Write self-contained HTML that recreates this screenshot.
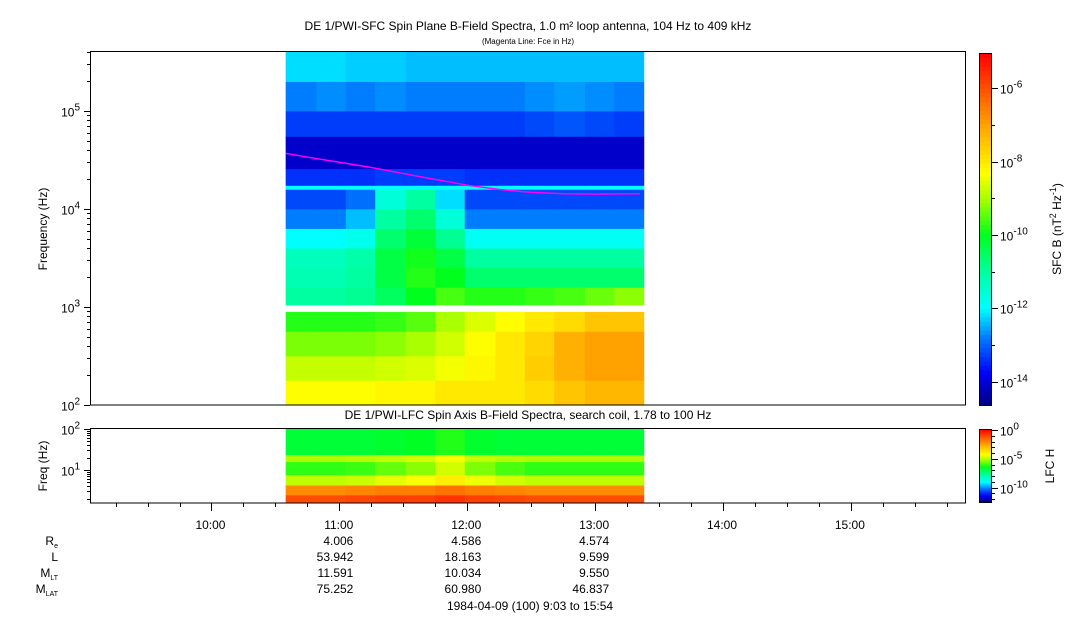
<!DOCTYPE html>
<html><head><meta charset="utf-8"><style>
body{margin:0;background:#fff}
svg text{font-family:"Liberation Sans",sans-serif;fill:#000}
</style></head><body>
<svg id="c" width="1083" height="620" xmlns="http://www.w3.org/2000/svg">
<text x="528" y="30" font-size="12" text-anchor="middle">DE 1/PWI-SFC  Spin Plane B-Field Spectra, 1.0 m² loop antenna, 104 Hz to 409 kHz</text>
<text x="528" y="44" font-size="8" text-anchor="middle">(Magenta Line: Fce in Hz)</text>
<text x="528" y="419" font-size="12" text-anchor="middle">DE 1/PWI-LFC  Spin Axis B-Field Spectra, search coil, 1.78 to 100 Hz</text>
<text transform="translate(47,229) rotate(-90)" font-size="12" text-anchor="middle">Frequency (Hz)</text>
<text transform="translate(47,466) rotate(-90)" font-size="12" text-anchor="middle">Freq (Hz)</text>
<text transform="translate(1061,229) rotate(-90)" font-size="12" text-anchor="middle">SFC B (nT<tspan dy="-5" font-size="9">2</tspan><tspan dy="5"> Hz</tspan><tspan dy="-5" font-size="9">-1</tspan><tspan dy="5">)</tspan></text>
<text transform="translate(1054,466) rotate(-90)" font-size="12" text-anchor="middle">LFC H</text>
<g id="g"></g>
</svg>
<script>
// ---- data ----
const timeBinStarts = [10.58,10.82,11.05,11.28,11.52,11.75,11.98,12.22,12.45,12.68,12.92,13.15];
const timeEnd = 13.38;
const upperBandEdges = [2.0,2.25,2.5,2.75,2.95,3.02,3.2,3.4,3.6,3.8,4.0,4.2,4.24,4.41,4.74,5.0,5.3,5.61];
const upperValues = [
 [-8.3,-8.3,-8.3,-8.2,-8.2,-8.0,-8.0,-8.0,-7.8,-7.5,-7.3,-7.3],
 [-8.8,-8.8,-8.8,-8.7,-8.6,-8.4,-8.2,-8.0,-7.6,-7.2,-7.0,-7.0],
 [-9.3,-9.3,-9.3,-9.2,-9.0,-8.7,-8.3,-8.0,-7.7,-7.2,-7.0,-7.0],
 [-9.8,-9.8,-9.8,-9.7,-9.5,-9.0,-8.6,-8.3,-8.0,-7.8,-7.5,-7.5],
 [null,null,null,null,null,null,null,null,null,null,null,null],
 [-11.0,-11.0,-10.9,-10.5,-10.0,-9.6,-9.8,-9.8,-9.7,-9.6,-9.4,-9.2],
 [-11.2,-11.2,-11.0,-10.3,-9.8,-10.0,-10.6,-10.6,-10.6,-10.6,-10.6,-10.6],
 [-11.3,-11.3,-11.1,-10.3,-9.9,-10.3,-11.0,-11.0,-11.0,-11.0,-11.0,-11.0],
 [-12.0,-12.0,-11.8,-10.6,-10.2,-10.9,-11.9,-11.9,-11.9,-11.9,-11.9,-11.9],
 [-12.8,-12.8,-12.4,-11.0,-10.6,-11.6,-12.8,-12.8,-12.8,-12.8,-12.8,-12.8],
 [-13.2,-13.2,-12.9,-11.6,-11.0,-12.2,-13.2,-13.2,-13.2,-13.2,-13.2,-13.2],
 [-12.0,-12.0,-12.0,-12.0,-12.0,-12.0,-12.0,-12.0,-12.0,-12.0,-12.0,-12.0],
 [-13.4,-13.4,-13.4,-13.3,-13.3,-13.3,-13.4,-13.4,-13.4,-13.4,-13.4,-13.4],
 [-14.1,-14.1,-14.1,-14.1,-14.1,-14.1,-14.1,-14.1,-14.1,-14.1,-14.1,-14.1],
 [-13.3,-13.3,-13.3,-13.3,-13.3,-13.3,-13.3,-13.3,-13.2,-13.1,-13.2,-13.3],
 [-12.8,-12.7,-12.8,-12.7,-12.8,-12.8,-12.8,-12.8,-12.7,-12.6,-12.7,-12.8],
 [-12.2,-12.2,-12.3,-12.3,-12.4,-12.4,-12.4,-12.4,-12.4,-12.4,-12.4,-12.4]
];
const fceTimes = [10.58,10.8,11.0,11.25,11.5,11.75,12.0,12.25,12.5,12.75,13.0,13.35];
const fceKHz = [37,33,30,26.5,23,20,17.5,15.8,14.8,14.3,14.2,14.3];
const lowerBandEdges = [0.2,0.39,0.63,0.88,1.2,1.37,2.0];
const lowerValues = [
 [-1.2,-1.2,-1.1,-1.0,-1.0,-0.8,-1.0,-1.1,-1.2,-1.2,-1.2,-1.2],
 [-2.2,-2.2,-2.1,-2.0,-2.0,-1.8,-2.0,-2.1,-2.2,-2.2,-2.2,-2.2],
 [-5.0,-5.0,-4.9,-4.6,-4.4,-4.0,-4.5,-4.8,-5.0,-5.0,-5.0,-5.0],
 [-6.2,-6.2,-6.1,-5.8,-5.5,-4.8,-5.6,-6.0,-6.2,-6.2,-6.2,-6.2],
 [-5.2,-5.2,-5.1,-5.0,-4.8,-4.4,-5.0,-5.1,-5.2,-5.2,-5.2,-5.2],
 [-6.8,-6.8,-6.8,-6.7,-6.6,-6.3,-6.7,-6.8,-6.8,-6.8,-6.8,-6.8]
];
const hourTicks = ["10:00","11:00","12:00","13:00","14:00","15:00"];
const ephemRows = ["4.006|4.586|4.574","53.942|18.163|9.599","11.591|10.034|9.550","75.252|60.980|46.837"];
// ---- axes ----
const X0=90,X1=966,T0=9+3/60,T1=15+54/60;
const xT=t=>X0+(t-T0)/(T1-T0)*(X1-X0);
const yU=l=>209-(l-4)*98;
const yL=l=>470-(l-1)*41;
const cbU=v=>235-(v+10)*36.7;
const cl=v=>430-v*5.75;
const NS='http://www.w3.org/2000/svg';
const g=document.getElementById('g');
function el(t,a,p){const e=document.createElementNS(NS,t);for(const k in a)e.setAttribute(k,a[k]);(p||g).appendChild(e);return e;}
const stops=[[0,[0,0,128]],[0.09,[0,0,245]],[0.19,[0,120,255]],[0.276,[0,255,255]],[0.38,[0,255,160]],[0.484,[0,255,30]],[0.58,[160,255,0]],[0.66,[255,255,0]],[0.8,[255,160,0]],[1,[255,0,0]]];
function cmap(f){f=Math.max(0,Math.min(1,f));for(let i=1;i<stops.length;i++){if(f<=stops[i][0]){const a=stops[i-1],b=stops[i],r=(f-a[0])/(b[0]-a[0]);return 'rgb('+a[1].map((c,j)=>Math.round(c+(b[1][j]-c)*r)).join(',')+')';}}return 'rgb(255,0,0)';}
const uf=v=>(v+14.65)/9.6, lf=v=>(v+12.7)/12.7;
// upper spectrogram
const gu=el('g',{});


upperValues.forEach((row,bi)=>row.forEach((v,ti)=>{if(v===null)return;
 const x=xT(timeBinStarts[ti]),x2=ti<timeBinStarts.length-1?xT(timeBinStarts[ti+1]):xT(timeEnd);
 const y=yU(upperBandEdges[bi+1]),y2=yU(upperBandEdges[bi]);
 const r=el('rect',{x:x,y:y,width:x2-x+0.5,height:y2-y+0.3,fill:cmap(uf(v))},gu);
 
 
}));
// fce line
const fp=el('polyline',{points:fceTimes.map((t,i)=>xT(t)+','+yU(Math.log10(fceKHz[i]*1000))).join(' '),fill:'none',stroke:'#ff00ff','stroke-width':1.5});


// lower spectrogram
const gl=el('g',{});


lowerValues.forEach((row,bi)=>row.forEach((v,ti)=>{
 const x=xT(timeBinStarts[ti]),x2=ti<timeBinStarts.length-1?xT(timeBinStarts[ti+1]):xT(timeEnd);
 const y=yL(lowerBandEdges[bi+1]),y2=yL(lowerBandEdges[bi]);
 const r=el('rect',{x:x,y:y,width:x2-x+0.5,height:y2-y+0.3,fill:cmap(lf(v))},gl);
 
 
}));
// frames
const f1=el('rect',{x:90.5,y:51.5,width:875,height:353.5,fill:'none',stroke:'#000'});


const f2=el('rect',{x:90.5,y:428.5,width:875,height:74.5,fill:'none',stroke:'#000'});


// y ticks
function yticks(fy,lo,hi,x,labels){for(let d=lo;d<hi;d++)for(let m=1;m<10;m++){const l=d+Math.log10(m);if(l>hi+0.001)break;const y=Math.round(fy(l))+0.5;if(y<51||y>505)continue;el('line',{x1:x-(m==1?6:3),x2:x,y1:y,y2:y,stroke:'#000'});if(m==1&&labels){const t=el('text',{x:x-10,y:y+5,'font-size':12,'text-anchor':'end'});t.innerHTML='10<tspan dy="-6" font-size="10">'+d+'</tspan>';
}}
 const y=Math.round(fy(hi))+0.5;el('line',{x1:x-6,x2:x,y1:y,y2:y,stroke:'#000'});if(labels){const t=el('text',{x:x-10,y:y+5,'font-size':12,'text-anchor':'end'});t.innerHTML='10<tspan dy="-6" font-size="10">'+hi+'</tspan>';}}
yticks(yU,2,5,90,true);
for(let m=2;m<=4;m++){const y=Math.round(yU(5+Math.log10(m)))+0.5;el('line',{x1:87,x2:90,y1:y,y2:y,stroke:'#000'});}
yticks(yL,0,2,90,true);
// time ticks
for(let k=0;k<=27;k++){const t=9.25+k*0.25;if(t>T1)break;const x=Math.round(xT(t))+0.5;const maj=Math.abs(t-Math.round(t))<1e-6;el('line',{x1:x,x2:x,y1:503,y2:maj?511:507,stroke:'#000'});}
hourTicks.forEach((s,i)=>{const t=el('text',{x:xT(10+i)+14,y:529,'font-size':12,'text-anchor':'end'});t.textContent=s;
});
// ephemeris
const labs=[['R','e'],['L',''],['M','LT'],['M','LAT']];
labs.forEach((l,i)=>{const y=545+i*16;const t=el('text',{x:58,y:y,'font-size':12,'text-anchor':'end'});t.innerHTML=l[0]+(l[1]?'<tspan font-size="7" dy="3">'+l[1]+'</tspan>':'');

 ephemRows[i].split('|').forEach((v,j)=>{const e=el('text',{x:xT(11+j)+14,y:y,'font-size':12,'text-anchor':'end'});e.textContent=v;
});});
const dt=el('text',{x:530,y:610,'font-size':12,'text-anchor':'middle'});dt.textContent='1984-04-09 (100) 9:03 to 15:54';


// colorbars
function cbar(y0,y1,lo,hi,ff,name){const n=80;for(let i=0;i<n;i++){const v=lo+(hi-lo)*(i+0.5)/n;const ya=y1-(y1-y0)*(i+1)/n;el('rect',{x:979,y:ya,width:13,height:(y1-y0)/n+0.5,fill:cmap(ff(v))});}
 const r=el('rect',{x:979.5,y:y0+0.5,width:12,height:y1-y0,fill:'none',stroke:'#000'});
}
cbar(53,405,-14.65,-5.05,uf,'sfc-colorbar');
[-6,-7,-8,-9,-10,-11,-12,-13,-14].forEach(v=>{const y=Math.round(cbU(v))+0.5;el('line',{x1:992,x2:v%2==0?998:995,y1:y,y2:y,stroke:'#000'});if(v%2==0){const t=el('text',{x:1000,y:y+5,'font-size':12});t.innerHTML='10<tspan dy="-6" font-size="10">'+v+'</tspan>';}});
cbar(429,502,-12.7,0,lf,'lfc-colorbar');
for(let v=0;v>=-12;v--){const y=Math.round(cl(v))+0.5;el('line',{x1:992,x2:v%5==0?998:995,y1:y,y2:y,stroke:'#000'});if(v%5==0){const t=el('text',{x:1000,y:y+5,'font-size':12});t.innerHTML='10<tspan dy="-6" font-size="10">'+v+'</tspan>';}}
</script>
</body></html>
